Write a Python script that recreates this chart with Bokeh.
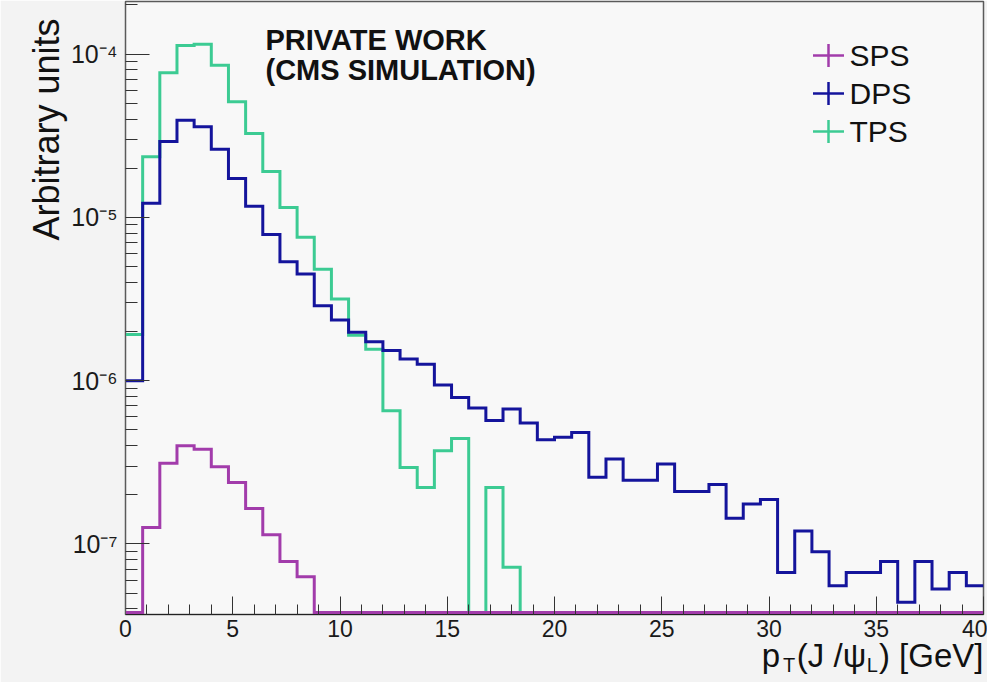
import numpy as np
from bokeh.plotting import figure
from bokeh.models import (FixedTicker, CustomJSTickFormatter, Label, Range1d, Title,
                          LinearScale, LinearAxis, ColumnDataSource)
from bokeh.core.properties import value
from bokeh.embed import file_html
from bokeh.resources import INLINE

# ---------------- data ----------------
bin_edges = [round(0.8 * i, 1) for i in range(51)]  # 50 bins of 0.8 GeV, 0..40

sps = [0.0, 1.26e-7, 3.12e-7, 4.0e-7, 3.81e-7, 2.97e-7, 2.38e-7, 1.65e-7, 1.14e-7,
       7.8e-8, 6.3e-8] + [0.0] * 39

dps = [1.0e-6, 1.22e-5, 2.92e-5, 3.94e-5, 3.59e-5, 2.61e-5, 1.73e-5, 1.17e-5, 7.87e-6,
       5.35e-6, 4.5e-6, 2.88e-6, 2.35e-6, 1.98e-6, 1.73e-6, 1.53e-6, 1.36e-6, 1.26e-6,
       9.4e-7, 7.9e-7, 6.8e-7, 5.7e-7, 6.7e-7, 5.5e-7, 4.35e-7, 4.5e-7, 4.82e-7, 2.56e-7,
       3.31e-7, 2.46e-7, 2.46e-7, 3.09e-7, 2.1e-7, 2.1e-7, 2.31e-7, 1.44e-7, 1.76e-7,
       1.87e-7, 6.7e-8, 1.2e-7, 8.97e-8, 5.55e-8, 6.7e-8, 6.7e-8, 7.8e-8, 4.4e-8, 7.8e-8,
       5.3e-8, 6.7e-8, 5.55e-8]

tps = [1.92e-6, 2.35e-5, 7.7e-5, 1.13e-4, 1.15e-4, 8.56e-5, 5.11e-5, 3.27e-5, 1.91e-5,
       1.15e-5, 7.55e-6, 4.82e-6, 3.16e-6, 1.9e-6, 1.56e-6, 6.55e-7, 2.94e-7, 2.22e-7,
       3.72e-7, 4.43e-7, 0.0, 2.22e-7, 7.2e-8] + [0.0] * 27

series_names = ["SPS", "DPS", "TPS"]
series_colors = ["#a23cab", "#14149c", "#3ccb93"]

x_ticks = [0, 5, 10, 15, 20, 25, 30, 35, 40]
x_minor = list(range(0, 41))
y_ticks = [1e-7, 1e-6, 1e-5, 1e-4]
y_tick_labels = ["10\u207b\u2077", "10\u207b\u2076", "10\u207b\u2075", "10\u207b\u2074"]
y_minor = [m * 10.0 ** e for e in (-8, -7, -6, -5, -4) for m in range(2, 10)]

x_title = ["p", "T", "(J /\u03c8", "L", ") [GeV]"]
y_title = "Arbitrary units"
note_lines = ["PRIVATE WORK", "(CMS SIMULATION)"]

# ---------------- figure ----------------
W, H = 987, 682
FW, FH = 858, 613
Y0, Y1 = 3.70e-8, 2.10e-4
FONT = "Liberation Sans"
BG_OUT, BG_IN = "#f3f3f3", "#f8f8f8"

p = figure(width=W, height=H, x_range=Range1d(0, 40), y_range=Range1d(Y0, Y1),
           y_axis_type="log", output_backend="svg", toolbar_location=None,
           min_border_left=125, min_border_right=4, min_border_top=1,
           min_border_bottom=H - 1 - FH)
p.background_fill_color = BG_IN
p.border_fill_color = BG_OUT
p.outline_line_color = "#5a5a5a"
p.outline_line_width = 1.5
p.grid.visible = False

p.extra_x_ranges = {"px": Range1d(0, FW)}
p.extra_y_ranges = {"px": Range1d(0, FH)}
p.extra_x_scales = {"px": LinearScale()}
p.extra_y_scales = {"px": LinearScale()}

# x axis
xa = p.xaxis[0]
xa.ticker = FixedTicker(ticks=x_ticks, minor_ticks=x_minor)
xa.major_tick_in, xa.major_tick_out = 18, 0
xa.minor_tick_in, xa.minor_tick_out = 10, 0
xa.major_label_standoff = 5
xa.major_label_text_font = FONT
xa.major_label_text_font_size = "23px"
xa.major_label_text_color = "#1a1a1a"
xa.axis_line_color = "#222222"
xa.major_tick_line_color = "#333333"
xa.minor_tick_line_color = "#333333"

# y axis
ya = p.yaxis[0]
ya.ticker = FixedTicker(ticks=y_ticks, minor_ticks=y_minor)
ya.formatter = CustomJSTickFormatter(args=dict(vals=y_ticks, labs=y_tick_labels), code="""
    let best = 0, bd = 1e9;
    for (let i = 0; i < vals.length; i++) {
        const d = Math.abs(Math.log10(vals[i]) - Math.log10(tick));
        if (d < bd) { bd = d; best = i; }
    }
    return labs[best];
""")
ya.major_tick_in, ya.major_tick_out = 24, 0
ya.minor_tick_in, ya.minor_tick_out = 12, 0
ya.major_label_standoff = 8
ya.major_label_text_font = FONT
ya.major_label_text_font_size = "25px"
ya.major_label_text_color = "#1a1a1a"
ya.axis_line_color = "#5a5a5a"
ya.major_tick_line_color = "#333333"
ya.minor_tick_line_color = "#333333"

# y title as a side Title, aligned to the top end of the axis
p.add_layout(Title(text=y_title, align="right", text_font=FONT, text_font_size="36px",
                   text_font_style="normal", text_color="#111111", standoff=2,
                   offset=17), "left")

# ---------------- x title: two label-only axes (main text + subscripts) ----------------
F, FS = 33, 20
em = {"p": .556, "T": .611, "(": .333, "J": .5, " ": .278, "/": .278, "\u03c8": .75,
      "L": .556, ")": .333, "[": .278, "G": .778, "e": .556, "V": .667, "]": .278}
def width(s, size):
    return sum(em.get(c, .556) for c in s) * size
sizes = [F, FS, F, FS, F]
gap = [3, 1, 0, 1, 0]
centers = [0.0] * len(x_title)
right = FW  # right end of the title = right edge of frame (frame pixel units)
for k in reversed(range(len(x_title))):
    w = width(x_title[k], sizes[k])
    right -= gap[k]
    centers[k] = right - w / 2
    right -= w

main_idx = [0, 2, 4]
sub_idx = [1, 3]

def title_axis(idx, size, standoff):
    pos = [round(centers[k], 1) for k in idx]
    labs = [x_title[k] for k in idx]
    ax = LinearAxis(x_range_name="px", ticker=FixedTicker(ticks=pos, minor_ticks=[]),
                    formatter=CustomJSTickFormatter(args=dict(vals=pos, labs=labs), code="""
                        let best = 0, bd = 1e9;
                        for (let i = 0; i < vals.length; i++) {
                            const d = Math.abs(vals[i] - tick);
                            if (d < bd) { bd = d; best = i; }
                        }
                        return labs[best];
                    """),
                    axis_line_color=None, major_tick_line_color=None,
                    minor_tick_line_color=None,
                    major_tick_in=0, major_tick_out=0, minor_tick_in=0, minor_tick_out=0,
                    major_label_standoff=standoff,
                    major_label_text_font=FONT, major_label_text_font_size=f"{size}px",
                    major_label_text_color="#111111")
    return ax

p.add_layout(title_axis(main_idx, F, -3), "below")
p.add_layout(title_axis(sub_idx, FS, -23), "below")

# ---------------- histograms ----------------
def plot_vals(vals):
    v = [x if x > 0 else Y0 * 1.03 for x in vals]
    return v + [v[-1]]

for name in ["TPS", "DPS", "SPS"]:
    i = series_names.index(name)
    vals = {"SPS": sps, "DPS": dps, "TPS": tps}[name]
    p.step(x=bin_edges, y=plot_vals(vals), mode="after",
           line_color=series_colors[i], line_width=3, line_join="miter")

# ---------------- legend (drawn in frame pixel space) ----------------
leg = ColumnDataSource(dict(
    cy=[559, 521, 483], tx=[724, 724, 724], name=series_names, color=series_colors))
p.segment(x0=[703 - 15.5] * 3, x1=[703 + 15.5] * 3, y0=[559, 521, 483], y1=[559, 521, 483],
          line_color=series_colors, line_width=2.5, x_range_name="px", y_range_name="px")
p.segment(x0=[703] * 3, x1=[703] * 3, y0=[559 - 11.5, 521 - 11.5, 483 - 11.5],
          y1=[559 + 11.5, 521 + 11.5, 483 + 11.5],
          line_color=series_colors, line_width=2.5, x_range_name="px", y_range_name="px")
p.text(x="tx", y="cy", text="name", source=leg, text_font=value(FONT),
       text_font_size="30px", text_baseline="middle", text_color="#111111",
       x_range_name="px", y_range_name="px")

# ---------------- annotations ----------------
p.add_layout(Label(x=140, y=559, text=note_lines[0], x_range_name="px", y_range_name="px",
                   text_font=FONT, text_font_size="29px", text_font_style="bold",
                   text_color="#111111"))
p.add_layout(Label(x=140, y=529, text=note_lines[1], x_range_name="px", y_range_name="px",
                   text_font=FONT, text_font_size="29px", text_font_style="bold",
                   text_color="#111111"))

open("out.html", "w").write(file_html(p, INLINE))
